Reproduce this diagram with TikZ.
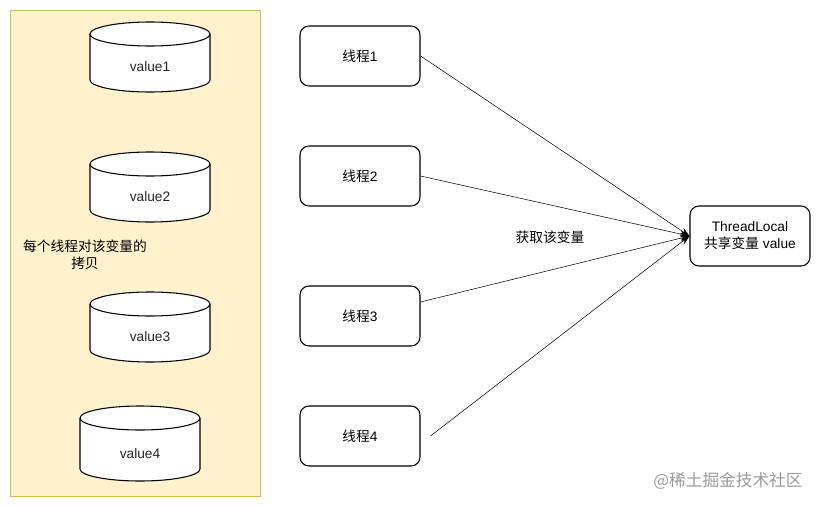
\documentclass[tikz,border=0pt]{standalone}
\usepackage{fontspec}
\setmainfont{Liberation Sans}
\newfontfamily\cjk{Noto Sans CJK SC}
\usetikzlibrary{arrows.meta,calc,positioning}

\definecolor{panelfill}{HTML}{FFF2CC}
\definecolor{paneldraw}{HTML}{D6B656}

% cylinder: name, x centre, y top, y bottom, label
\newcommand\valdb[5]{%
    \filldraw[db] ({#2-60},{#3+12}) -- ({#2-60},{#4-12})
        arc[start angle=180, end angle=360, x radius=45pt, y radius=9pt]
        -- ({#2+60},{#3+12})
        arc[start angle=0, end angle=180, x radius=45pt, y radius=9pt] -- cycle;
    \draw[db] ({#2-60},{#3+12})
        arc[start angle=180, end angle=360, x radius=45pt, y radius=9pt];
    \node[label text] (#1) at ({#2},{(#3+#4)/2+10}) {#5};
}

\begin{document}
\begin{tikzpicture}[
        x=0.75pt, y=-0.75pt,
        font=\fontsize{10.3pt}{12.75pt}\selectfont,
        db/.style={thick, fill=white, draw=black},
        label text/.style={inner sep=0pt, text=black!85},
        thread/.style={draw, thick, fill=white, rounded corners=6.75pt,
            minimum width=90pt, minimum height=45pt, inner sep=0pt},
        pile/.style={->, >={Stealth[length=7pt, width=5pt]}, shorten >=0pt},
        every node/.style={color=black}
    ]
    \useasboundingbox (0,0) rectangle (821,507);
    % left panel
    \draw[fill=panelfill, draw=paneldraw] (10,10) rectangle (260,496);
    \valdb{v1}{150}{22}{92}{value1}
    \valdb{v2}{150}{152}{222}{value2}
    \valdb{v3}{150}{292}{362}{value3}
    \valdb{v4}{140}{406}{481}{value4}
    \node[align=center, inner sep=0pt] (copy) at (85,255) {\cjk 每个线程对该变量的\\\cjk 拷贝};

    % threads
    \node[thread] (t1) at (360,56) {{\cjk 线程}1};
    \node[thread] (t2) at (360,176) {{\cjk 线程}2};
    \node[thread] (t3) at (360,316) {{\cjk 线程}3};
    \node[thread] (t4) at (360,436) {{\cjk 线程}4};
    \node[thread, align=center] (tl) at (750,236) {ThreadLocal\\{\cjk 共享变量} value};

    % arrows
    \coordinate (t3out) at ($(t3.east)+(0,-14)$);
    \coordinate (t4out) at ($(t4.east)+(10,0)$);
    \draw[pile] (t1.east) -- (tl.west);
    \draw[pile] (t2.east) -- (tl.west);
    \draw[pile] (t3out) -- (tl.west);
    \draw[pile] (t4out) -- (tl.west);
    \node (get) at (550,237) {\cjk 获取该变量};

    \node[color=black!40, font=\cjk\fontsize{12.5pt}{14pt}\selectfont] (mark) at (728,481) {@稀土掘金技术社区};
\end{tikzpicture}
\end{document}
